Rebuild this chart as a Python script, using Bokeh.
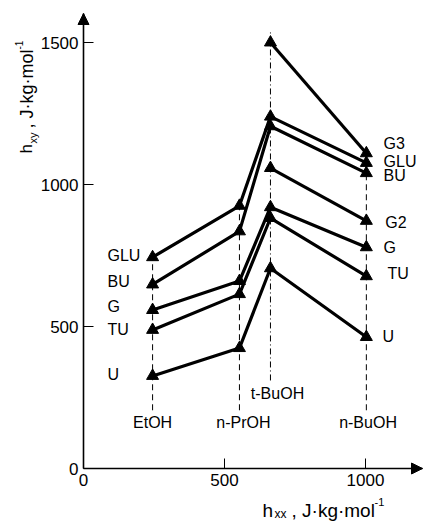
import math
from bokeh.plotting import figure
from bokeh.models import FixedTicker, Label, Arrow, NormalHead, Range1d
from bokeh.core.properties import value
from bokeh.embed import file_html
from bokeh.resources import INLINE

# ---------------- data ----------------
solvents = ["EtOH", "n-PrOH", "t-BuOH", "n-BuOH"]
hxx = [245, 553, 663, 1003]            # J kg mol^-1, x position of each alcohol
GLU = [744, 925, 1239, 1076]
BU = [648, 835, 1205, 1040]
G = [558, 660, 920, 779]
TU = [488, 614, 882, 677]
U = [326, 424, 705, 463]
G2 = [1058, 872]                        # t-BuOH, n-BuOH only
G3 = [1500, 1110]                       # t-BuOH, n-BuOH only
x_ticks = [0, 500, 1000]
y_ticks = [0, 500, 1000, 1500]

# ---------------- layout ----------------
W, H = 423, 522
X0, XS = 83, 0.282        # canvas px of x=0, px per unit
Y0, YS = 468, 0.284       # canvas px of y=0, px per unit
FONT = "Liberation Sans"


def fx(px):   # canvas pixel -> data x
    return (px - X0) / XS


def fy(py):   # canvas pixel -> data y
    return (Y0 - py) / YS


p = figure(width=W, height=H, output_backend="svg", toolbar_location=None,
           x_range=Range1d(fx(0), fx(W)), y_range=Range1d(fy(H), fy(0)),
           min_border=0, min_border_left=0, min_border_right=0,
           min_border_top=0, min_border_bottom=0)
p.title.visible = False
p.xgrid.visible = False
p.ygrid.visible = False
p.outline_line_color = None
p.background_fill_color = "white"
p.border_fill_color = "white"

XTIP, YTIP = fx(422), fy(13)

p.xaxis.ticker = FixedTicker(ticks=x_ticks)
p.yaxis.ticker = FixedTicker(ticks=y_ticks)
p.xaxis.fixed_location = 0
p.yaxis.fixed_location = 0
p.xaxis.bounds = (0, XTIP)
p.yaxis.bounds = (0, YTIP)
for ax in (p.xaxis[0], p.yaxis[0]):
    ax.major_tick_in = 10
    ax.major_tick_out = 0
    ax.minor_tick_line_color = None
    ax.axis_line_width = 1.6
    ax.axis_line_color = "black"
    ax.major_tick_line_color = "black"
    ax.major_tick_line_width = 1
    ax.major_label_text_font = FONT
    ax.major_label_text_font_size = "17px"
    ax.major_label_text_color = "black"
p.xaxis.major_label_standoff = 5
p.yaxis.major_label_standoff = 5

# axis arrows
p.add_layout(Arrow(end=NormalHead(size=11, fill_color="black", line_color="black"),
                   x_start=0, y_start=YTIP - 40, x_end=0, y_end=YTIP,
                   line_color="black", line_width=1.6))
p.add_layout(Arrow(end=NormalHead(size=11, fill_color="black", line_color="black"),
                   x_start=XTIP - 40, y_start=0, x_end=XTIP, y_end=0,
                   line_color="black", line_width=1.6))

# vertical guide lines
p.segment(x0=hxx[:2] + hxx[3:], y0=[205, 205, 205], x1=hxx[:2] + hxx[3:],
          y1=[GLU[0], GLU[1], G3[1]], line_color="black", line_width=1,
          line_dash="6 4")
p.segment(x0=[hxx[2]], y0=[310], x1=[hxx[2]], y1=[1545], line_color="black",
          line_width=1, line_dash="6 3 1 3")

# series
for s in (GLU, BU, G, TU, U):
    p.line(hxx, s, line_color="black", line_width=3.2)
    p.scatter(hxx, s, marker="triangle", size=12, fill_color="black",
              line_color="black")
for s in (G2, G3):
    p.line(hxx[2:], s, line_color="black", line_width=3.2)
    p.scatter(hxx[2:], s, marker="triangle", size=12, fill_color="black",
              line_color="black")

# series labels
left_names = ["GLU", "BU", "G", "TU", "U"]
left_y = [750, 658, 570, 489, 331]
p.text(x=[85] * 5, y=left_y, text=left_names, text_font=value(FONT),
       text_font_size="16px", text_align="left", text_baseline="middle",
       text_color="black")
right_names = ["G3", "GLU", "BU", "G2", "G", "TU", "U"]
right_y = [1144, 1080, 1032, 866, 778, 687, 465]
right_x = [1064, 1064, 1064, 1070, 1064, 1078, 1060]
p.text(x=right_x, y=right_y, text=right_names, text_font=value(FONT),
       text_font_size="16px", text_align="left", text_baseline="middle",
       text_color="black")

# alcohol labels
p.text(x=[hxx[0], hxx[1] + 14, hxx[2] + 25, hxx[3] + 6], y=[162, 162, 264, 162],
       text=solvents, text_font=value(FONT), text_font_size="16px",
       text_align="center", text_baseline="middle", text_color="black")


def lab(px, py, txt, size, angle=0.0):
    p.add_layout(Label(x=fx(px), y=fy(py), text=txt, text_font=FONT,
                       text_font_size=size, text_color="black",
                       text_align="left", text_baseline="alphabetic",
                       angle=angle))


# x axis title: h_xx , J.kg.mol^-1
lab(262, 510, "h", "19px")
lab(274, 513, "xx", "12px")
lab(291, 510, ", J·kg·mol", "19px")
lab(374, 501, "-1", "11px")

# y axis title (rotated)
r = math.pi / 2
lab(26, 153, "h", "17px", r)
lab(32, 143, "xy", "11px", r)
lab(26, 128, ", J·kg·mol", "18px", r)
lab(18, 49, "-1", "10px", r)

open("out.html", "w").write(file_html(p, INLINE))
